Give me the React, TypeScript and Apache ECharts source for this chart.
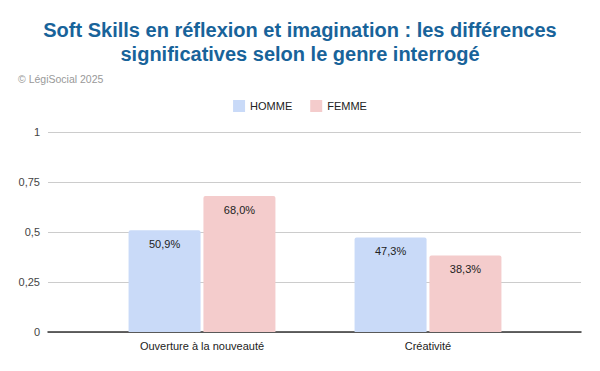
import React, { useEffect, useRef } from "react";
import * as echarts from "echarts";

const categories = ["Ouverture à la nouveauté", "Créativité"];
const homme = [0.509, 0.473];
const femme = [0.68, 0.383];
const yTicks = [0, 0.25, 0.5, 0.75, 1];

const fmtPct = (v: number) => (v * 100).toFixed(1).replace(".", ",") + "%";
const fmtTick = (v: number) => String(v).replace(".", ",");

export default function App() {
  const ref = useRef<HTMLDivElement>(null);
  useEffect(() => {
    const chart = echarts.init(ref.current!, null, { renderer: "svg" });
    const font = "Liberation Sans, Arial, sans-serif";
    chart.setOption({
      animation: false,
      backgroundColor: "#ffffff",
      title: [
        {
          text: "Soft Skills en réflexion et imagination : les différences\nsignificatives selon le genre interrogé",
          left: "center",
          top: 13,
          textStyle: { fontFamily: font, fontSize: 20, fontWeight: "bold", color: "#18639a", lineHeight: 24 },
        },
        {
          text: "© LégiSocial 2025",
          left: 13,
          top: 68,
          textStyle: { fontFamily: font, fontSize: 10.5, fontWeight: "normal", color: "#999999" },
        },
      ],
      legend: {
        top: 95,
        left: "center",
        itemWidth: 12,
        itemHeight: 12,
        itemGap: 18,
        icon: "rect",
        textStyle: { fontFamily: font, fontSize: 11, color: "#222222" },
        data: ["HOMME", "FEMME"],
      },
      grid: [
        { left: 48, right: 19, top: 132, bottom: 39 },
        { left: 89, right: 59, top: 132, bottom: 39 },
      ],
      xAxis: [
        {
          type: "category",
          gridIndex: 0,
          data: categories,
          axisLine: { show: true, lineStyle: { color: "#333333", width: 1.5 } },
          axisTick: { show: false },
          axisLabel: { show: false },
        },
        {
          type: "category",
          gridIndex: 1,
          data: categories,
          axisLine: { show: false },
          axisTick: { show: false },
          axisLabel: { fontFamily: font, fontSize: 11, color: "#222222", margin: 8 },
        },
      ],
      yAxis: [
        {
          type: "value",
          gridIndex: 0,
          min: 0,
          max: 1,
          interval: 0.25,
          axisLine: { show: false },
          axisTick: { show: false },
          axisLabel: {
            fontFamily: font,
            fontSize: 11,
            color: "#444444",
            margin: 8,
            formatter: (v: number) => (yTicks.includes(v) ? fmtTick(v) : ""),
          },
          splitLine: { lineStyle: { color: "#cccccc", width: 1 } },
        },
        {
          type: "value",
          gridIndex: 1,
          min: 0,
          max: 1,
          interval: 0.25,
          show: false,
          splitLine: { show: false },
        },
      ],
      series: [
        {
          name: "HOMME",
          type: "bar",
          xAxisIndex: 1,
          yAxisIndex: 1,
          data: homme,
          barWidth: 72,
          barGap: "4%",
          itemStyle: { color: "#c9daf8", borderRadius: [2, 2, 0, 0] },
          label: {
            show: true,
            position: "insideTop",
            distance: 8,
            formatter: (p: any) => fmtPct(p.value),
            fontFamily: font,
            fontSize: 11,
            color: "#222222",
          },
        },
        {
          name: "FEMME",
          type: "bar",
          xAxisIndex: 1,
          yAxisIndex: 1,
          data: femme,
          barWidth: 72,
          barGap: "4%",
          itemStyle: { color: "#f4cccc", borderRadius: [2, 2, 0, 0] },
          label: {
            show: true,
            position: "insideTop",
            distance: 8,
            formatter: (p: any) => fmtPct(p.value),
            fontFamily: font,
            fontSize: 11,
            color: "#222222",
          },
        },
      ],
    });
    return () => chart.dispose();
  }, []);
  return <div ref={ref} style={{ width: 600, height: 371, position: "absolute", left: 0, top: 0 }} />;
}
